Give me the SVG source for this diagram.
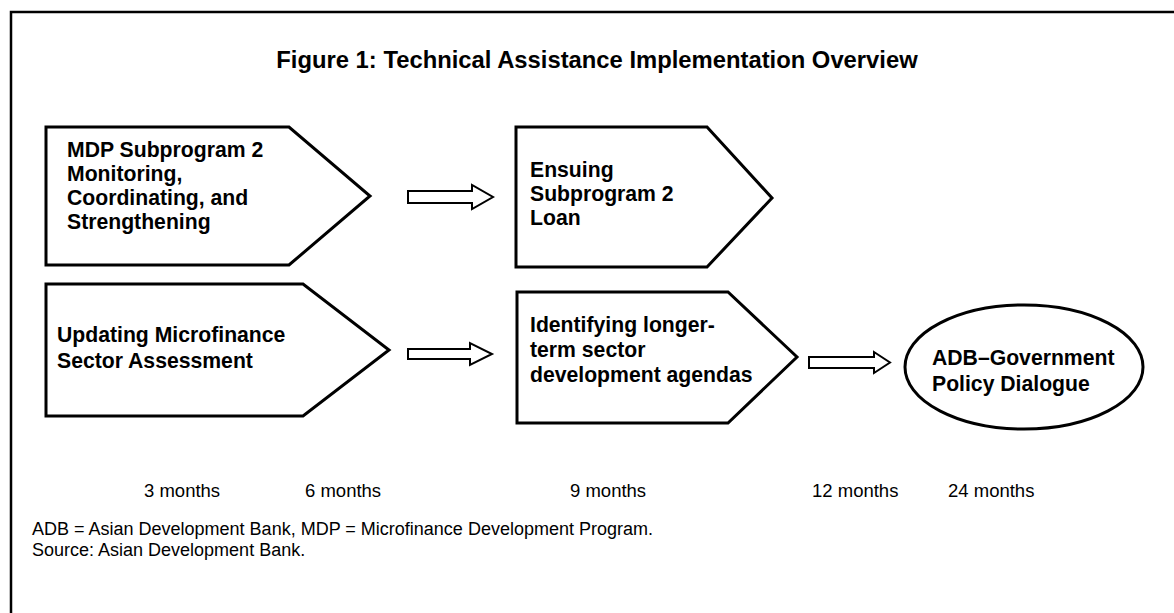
<svg xmlns="http://www.w3.org/2000/svg" width="1174" height="613" viewBox="0 0 1174 613">
  <style>
    .frame { fill: none; stroke: #000; stroke-width: 2.5; }
    .shape { fill: #fff; stroke: #000; stroke-width: 3; stroke-linejoin: miter; }
    .arrow { fill: #fff; stroke: #000; stroke-width: 2; stroke-linejoin: miter; }
    .title { font-family: "Liberation Sans", Arial, sans-serif; font-weight: bold; font-size: 23.8px; fill: #000; }
    .label { font-family: "Liberation Sans", Arial, sans-serif; font-weight: bold; font-size: 21.2px; fill: #000; }
    .plain { font-family: "Liberation Sans", Arial, sans-serif; font-size: 18.5px; fill: #000; }
    .note { font-family: "Liberation Sans", Arial, sans-serif; font-size: 18px; fill: #000; }
  </style>

  <rect width="1174" height="613" fill="#fff"/>

  <!-- outer frame (open to the right and bottom) -->
  <path class="frame" d="M11,613 V12 H1174"/>

  <text class="title" x="597" y="68" text-anchor="middle">Figure 1: Technical Assistance Implementation Overview</text>

  <!-- process steps -->
  <g id="node-mdp">
    <polygon class="shape" points="46,127 289,127 370,196 289,265 46,265"/>
    <text class="label" x="67" y="157">MDP Subprogram 2</text>
    <text class="label" x="67" y="181">Monitoring,</text>
    <text class="label" x="67" y="205">Coordinating, and</text>
    <text class="label" x="67" y="229">Strengthening</text>
  </g>

  <g id="node-loan">
    <polygon class="shape" points="516,127 707,127 772,198 707,267 516,267"/>
    <text class="label" x="530" y="177">Ensuing</text>
    <text class="label" x="530" y="201">Subprogram 2</text>
    <text class="label" x="530" y="225">Loan</text>
  </g>

  <g id="node-assessment">
    <polygon class="shape" points="46,284 303,284 389,350 303,416 46,416"/>
    <text class="label" x="57" y="342">Updating Microfinance</text>
    <text class="label" x="57" y="368">Sector Assessment</text>
  </g>

  <g id="node-agendas">
    <polygon class="shape" points="517,292 728,292 797,357 728,423 517,423"/>
    <text class="label" x="530" y="332">Identifying longer-</text>
    <text class="label" x="530" y="357">term sector</text>
    <text class="label" x="530" y="382">development agendas</text>
  </g>

  <g id="node-dialogue">
    <ellipse class="shape" cx="1024" cy="367" rx="119" ry="62"/>
    <text class="label" x="932" y="365">ADB–Government</text>
    <text class="label" x="932" y="391">Policy Dialogue</text>
  </g>

  <!-- block arrows between steps -->
  <g id="connectors">
    <polygon class="arrow" points="408,191 472,191 472,185 493,197 472,209 472,203 408,203"/>
    <polygon class="arrow" points="408,349 470,349 470,343 492,354 470,365 470,359 408,359"/>
    <polygon class="arrow" points="809,357 874,357 874,352 890,362.5 874,373 874,368 809,368"/>
  </g>

  <!-- timeline -->
  <text class="plain" x="144" y="497">3 months</text>
  <text class="plain" x="305" y="497">6 months</text>
  <text class="plain" x="570" y="497">9 months</text>
  <text class="plain" x="812" y="497">12 months</text>
  <text class="plain" x="948" y="497">24 months</text>

  <!-- notes -->
  <text class="note" x="32" y="535">ADB = Asian Development Bank, MDP = Microfinance Development Program.</text>
  <text class="note" x="32" y="556">Source: Asian Development Bank.</text>
</svg>
